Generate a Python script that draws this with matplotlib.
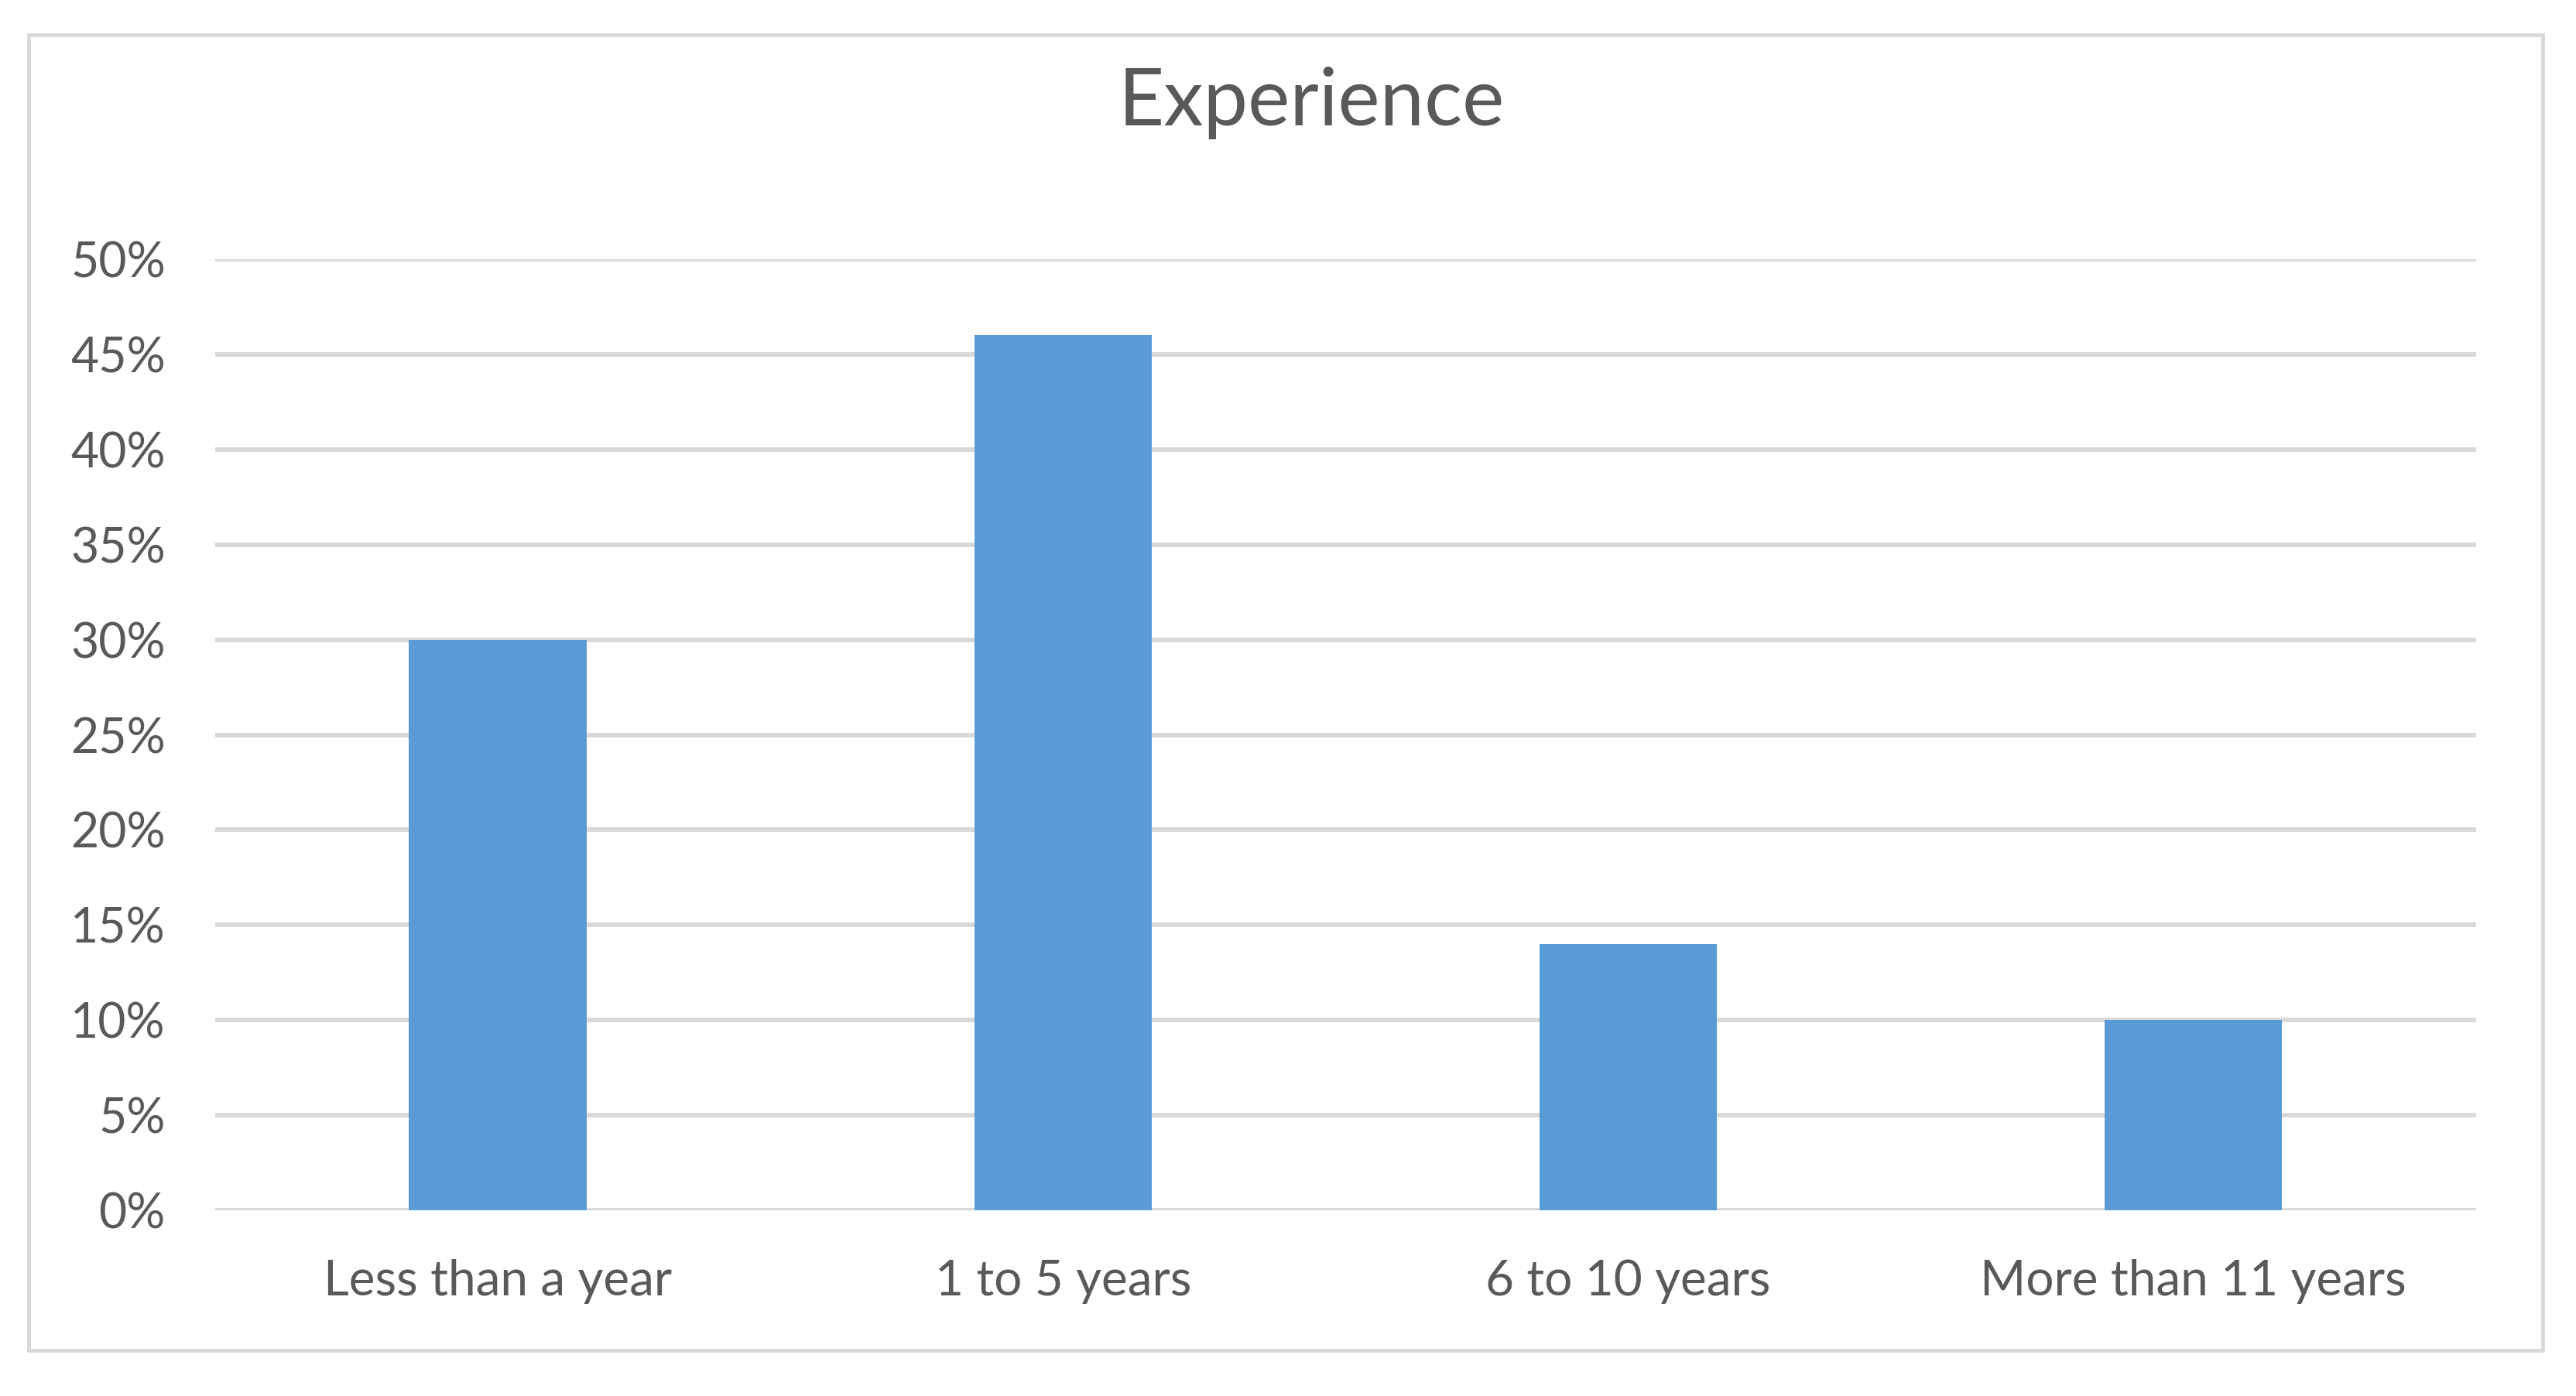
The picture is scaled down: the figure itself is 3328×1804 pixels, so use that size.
import matplotlib
matplotlib.use("Agg")
import matplotlib.pyplot as plt
from matplotlib.patches import Rectangle
from matplotlib.ticker import FuncFormatter, MultipleLocator

categories = ["Less than a year", "1 to 5 years", "6 to 10 years", "More than 11 years"]
values = [0.30, 0.46, 0.14, 0.10]
title = "Experience"

plt.rcParams['font.family'] = ['Lato', 'DejaVu Sans']
TXT = "#595959"
GRID = "#D9D9D9"
BAR = "#5B9BD5"

fig = plt.figure(figsize=(33.28, 18.04), dpi=100)
ax = fig.add_axes([0.0835, 0.1330, 0.9612 - 0.0835, 0.8143 - 0.1330])

x = range(len(categories))
ax.bar(x, values, width=0.314, color=BAR, zorder=3)
ax.set_xlim(-0.5, len(categories) - 0.5)
ax.set_ylim(0, 0.5)
ax.yaxis.set_major_locator(MultipleLocator(0.05))
ax.yaxis.set_major_formatter(FuncFormatter(lambda v, p: f"{round(v*100)}%"))
ax.set_xticks(list(x))
ax.set_xticklabels(categories)
ax.grid(axis='y', color=GRID, linewidth=4.3, zorder=0)
ax.set_axisbelow(True)
for s in ax.spines.values():
    s.set_visible(False)
ax.tick_params(axis='both', length=0, labelsize=45, labelcolor=TXT)
ax.tick_params(axis='x', labelsize=46, pad=45)
ax.tick_params(axis='y', pad=46)

fig.text(0.509, 0.9265, title, ha='center', va='center', fontsize=74, color=TXT)

border = Rectangle((0.0111, 0.0327), 0.976, 0.9424, transform=fig.transFigure,
                   fill=False, edgecolor=GRID, linewidth=3.5)
fig.patches.append(border)

fig.savefig("out.png", dpi=100, facecolor="white")
